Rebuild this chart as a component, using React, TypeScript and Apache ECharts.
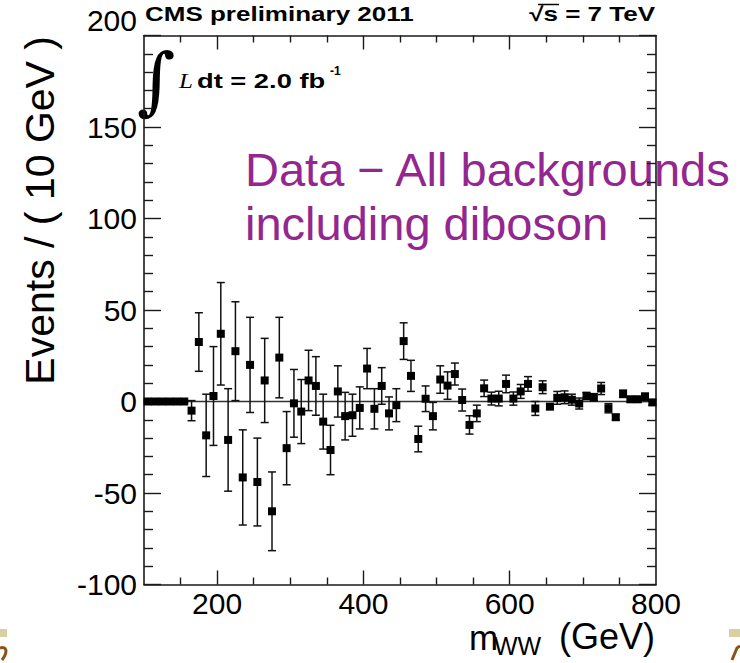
import React, { useEffect, useRef } from "react";
import * as echarts from "echarts";

// bin centres of m_WW (GeV), 10 GeV bins
const binCenters = [
  105, 115, 125, 135, 145, 155, 165, 175, 185, 195,
  205, 215, 225, 235, 245, 255, 265, 275, 285, 295,
  305, 315, 325, 335, 345, 355, 365, 375, 385, 395,
  405, 415, 425, 435, 445, 455, 465, 475, 485, 495,
  505, 515, 525, 535, 545, 555, 565, 575, 585, 595,
  605, 615, 625, 635, 645, 655, 665, 675, 685, 695,
  705, 715, 725, 735, 745, 755, 765, 775, 785, 795,
];
// Data - all backgrounds (events / 10 GeV)
const eventDiff = [
  0, 0, 0, 0, 0, 0, -5, 32.5, -18.5, 3,
  37, -21, 27.5, -41.5, 20, -44, 11.5, -60, 24, -25.5,
  -1, -5.5, 11.5, 8.5, -11, -26.5, 5.5, -8, -7.5, -3.5,
  18, -4, 8.5, -6.5, -2, 33, 14, -20.5, 1.5, -8,
  12, 8.7, 15, 0.8, -12.8, -6.5, 7.2, 1.6, 1.6, 9.6,
  1.6, 5.5, 9.6, -3.8, 7.8, -2.8, 2, 2.3, 1, -1.1,
  3, 2.3, 7.1, -3.7, -8.6, 4.2, 1.2, 1.2, 2.6, -0.5,
];
const eventErr = [
  0.6, 0.6, 0.6, 0.6, 0.6, 0.6, 5.5, 16, 22.5, 27,
  28, 28, 27, 26, 26, 24, 23, 21.5, 22, 20,
  18.5, 17.5, 16.5, 16, 15, 13.5, 14, 13, 11.5, 11.5,
  11, 11, 10, 9, 9, 10, 8.5, 7, 7, 7.5,
  7.5, 7.5, 6, 6, 5, 4.5, 4.5, 3.5, 4, 4.8,
  3.6, 3.8, 4, 3.8, 3.5, 1.5, 3.5, 3.5, 3, 3,
  2, 2, 3.3, 2.5, 1.5, 2, 1.5, 1.5, 2, 1.5,
];
const xLabelValues = [200, 400, 600, 800];
const xMajorTicks = [200, 400, 600];
const xMinorTicks = [150, 250, 300, 350, 450, 500, 550, 650, 700, 750];
const zeroLine = [
  [100, 0],
  [800, 0],
];

const SANS = "'Liberation Sans', Arial, Helvetica, sans-serif";

export default function App() {
  const ref = useRef<HTMLDivElement>(null);

  useEffect(() => {
    if (!ref.current) return;
    const chart = echarts.init(ref.current, null, { renderer: "svg" });

    const points = binCenters.map((x, i) => [x, eventDiff[i], eventErr[i]]);

    const axisLine = { show: true, onZero: false, lineStyle: { color: "#1a1a1a", width: 1.6 } };
    const tickStyle = { color: "#1a1a1a", width: 1.4 };

    const xBase = { type: "value", min: 100, max: 800, gridIndex: 0, splitLine: { show: false } };
    const yBase = { type: "value", min: -100, max: 200, interval: 50, gridIndex: 0, splitLine: { show: false } };

    const option: any = {
      animation: false,
      backgroundColor: "#ffffff",
      grid: { left: 144, top: 35.5, width: 512, height: 549, containLabel: false },
      xAxis: [
        {
          ...xBase,
          position: "bottom",
          axisLine,
          axisLabel: {
            show: true,
            customValues: xLabelValues,
            fontSize: 30,
            color: "#000",
            fontFamily: SANS,
            margin: 4,
          },
          axisTick: { show: true, inside: true, length: 14, customValues: xMajorTicks, lineStyle: tickStyle },
        },
        {
          ...xBase,
          position: "bottom",
          axisLine: { show: false, onZero: false },
          axisLabel: { show: false },
          axisTick: { show: true, inside: true, length: 7, customValues: xMinorTicks, lineStyle: tickStyle },
        },
        {
          ...xBase,
          position: "top",
          axisLine,
          axisLabel: { show: false },
          axisTick: { show: true, inside: true, length: 14, customValues: xMajorTicks, lineStyle: tickStyle },
        },
        {
          ...xBase,
          position: "top",
          axisLine: { show: false, onZero: false },
          axisLabel: { show: false },
          axisTick: { show: true, inside: true, length: 7, customValues: xMinorTicks, lineStyle: tickStyle },
        },
      ],
      yAxis: [
        {
          ...yBase,
          position: "left",
          axisLine,
          axisLabel: {
            show: true,
            fontSize: 30,
            color: "#000",
            fontFamily: SANS,
            margin: 7,
            verticalAlignMaxLabel: "bottom",
          },
          axisTick: { show: true, inside: true, length: 17, lineStyle: tickStyle },
          minorTick: { show: true, splitNumber: 5, length: 9, lineStyle: tickStyle },
        },
        {
          ...yBase,
          position: "right",
          axisLine,
          axisLabel: { show: false },
          axisTick: { show: true, inside: true, length: 17, lineStyle: tickStyle },
          minorTick: { show: true, splitNumber: 5, length: 9, lineStyle: tickStyle },
        },
      ],
      series: [
        {
          type: "line",
          xAxisIndex: 0,
          yAxisIndex: 0,
          data: zeroLine,
          symbol: "none",
          silent: true,
          lineStyle: { color: "#333", width: 1.6 },
          z: 1,
        },
        {
          type: "custom",
          xAxisIndex: 0,
          yAxisIndex: 0,
          data: points,
          encode: { x: 0, y: 1 },
          z: 3,
          renderItem: (params: any, api: any) => {
            const x = api.value(0);
            const y = api.value(1);
            const e = api.value(2);
            const p = api.coord([x, y]);
            const top = api.coord([x, y + e]);
            const bot = api.coord([x, y - e]);
            const stroke = { stroke: "#111", lineWidth: 1.5 };
            const cap = 4;
            return {
              type: "group",
              children: [
                { type: "line", shape: { x1: p[0], y1: top[1], x2: p[0], y2: bot[1] }, style: stroke },
                { type: "line", shape: { x1: p[0] - cap, y1: top[1], x2: p[0] + cap, y2: top[1] }, style: stroke },
                { type: "line", shape: { x1: p[0] - cap, y1: bot[1], x2: p[0] + cap, y2: bot[1] }, style: stroke },
                { type: "rect", shape: { x: p[0] - 4, y: p[1] - 4, width: 8, height: 8 }, style: { fill: "#000" } },
              ],
            };
          },
        },
      ],
      graphic: [
        {
          type: "text",
          x: 40,
          y: 36,
          rotation: Math.PI / 2,
          style: {
            text: "Events / ( 10 GeV )",
            font: `41px ${SANS}`,
            fill: "#000",
            align: "right",
            verticalAlign: "middle",
          },
        },
        {
          type: "text",
          x: 469,
          y: 637,
          style: { text: "m", font: `35px ${SANS}`, fill: "#000", align: "left", verticalAlign: "middle" },
        },
        {
          type: "text",
          x: 494,
          y: 646,
          style: { text: "WW", font: `25px ${SANS}`, fill: "#000", align: "left", verticalAlign: "middle" },
        },
        {
          type: "text",
          x: 655,
          y: 636,
          style: { text: "(GeV)", font: `36px ${SANS}`, fill: "#000", align: "right", verticalAlign: "middle" },
        },
        {
          type: "text",
          x: 145,
          y: 14,
          scaleX: 1.3,
          style: { text: "CMS preliminary 2011", font: `bold 20px ${SANS}`, fill: "#000", align: "left", verticalAlign: "middle" },
        },
        {
          type: "text",
          x: 655,
          y: 14,
          scaleX: 1.3,
          style: { text: "√s = 7 TeV", font: `bold 20px ${SANS}`, fill: "#000", align: "right", verticalAlign: "middle" },
        },
        {
          type: "line",
          shape: { x1: 538, y1: 4.5, x2: 559, y2: 4.5 },
          style: { stroke: "#000", lineWidth: 1.5 },
        },
        {
          type: "text",
          x: 156,
          y: 80,
          style: { text: "∫", font: `74px 'DejaVu Serif', serif`, fill: "#000", align: "center", verticalAlign: "middle" },
        },
        {
          type: "text",
          x: 179,
          y: 81,
          scaleX: 1.25,
          style: { text: "L", font: `italic 20px 'Liberation Serif', serif`, fill: "#000", align: "left", verticalAlign: "middle" },
        },
        {
          type: "text",
          x: 197,
          y: 81,
          scaleX: 1.4,
          style: { text: "dt = 2.0 fb", font: `bold 19.5px ${SANS}`, fill: "#000", align: "left", verticalAlign: "middle" },
        },
        {
          type: "text",
          x: 330,
          y: 71,
          style: { text: "-1", font: `bold 12px ${SANS}`, fill: "#000", align: "left", verticalAlign: "middle" },
        },
        {
          type: "text",
          x: 245,
          y: 169,
          style: { text: "Data − All backgrounds", font: `47px ${SANS}`, fill: "#93278f", align: "left", verticalAlign: "middle" },
        },
        {
          type: "text",
          x: 245,
          y: 223,
          style: { text: "including diboson", font: `47px ${SANS}`, fill: "#93278f", align: "left", verticalAlign: "middle" },
        },
        { type: "rect", shape: { x: 0, y: 629, width: 7, height: 8 }, style: { fill: "#d6d0a2" } },
        { type: "rect", shape: { x: 729, y: 629, width: 11, height: 8 }, style: { fill: "#d6d0a2" } },
        {
          type: "bezierCurve",
          shape: { x1: 0, y1: 648, cpx1: 7, cpy1: 646, x2: 2, y2: 660, cpx2: 8, cpy2: 652 },
          style: { stroke: "#8a5417", lineWidth: 3, fill: null },
        },
        {
          type: "polyline",
          shape: { points: [[732, 660], [737, 648], [740, 646]] },
          style: { stroke: "#8a5417", lineWidth: 3, fill: null },
        },
      ],
    };

    chart.setOption(option);
    return () => chart.dispose();
  }, []);

  return (
    <div
      ref={ref}
      style={{ position: "absolute", left: 0, top: 0, width: 740, height: 663, background: "#fff" }}
    />
  );
}
